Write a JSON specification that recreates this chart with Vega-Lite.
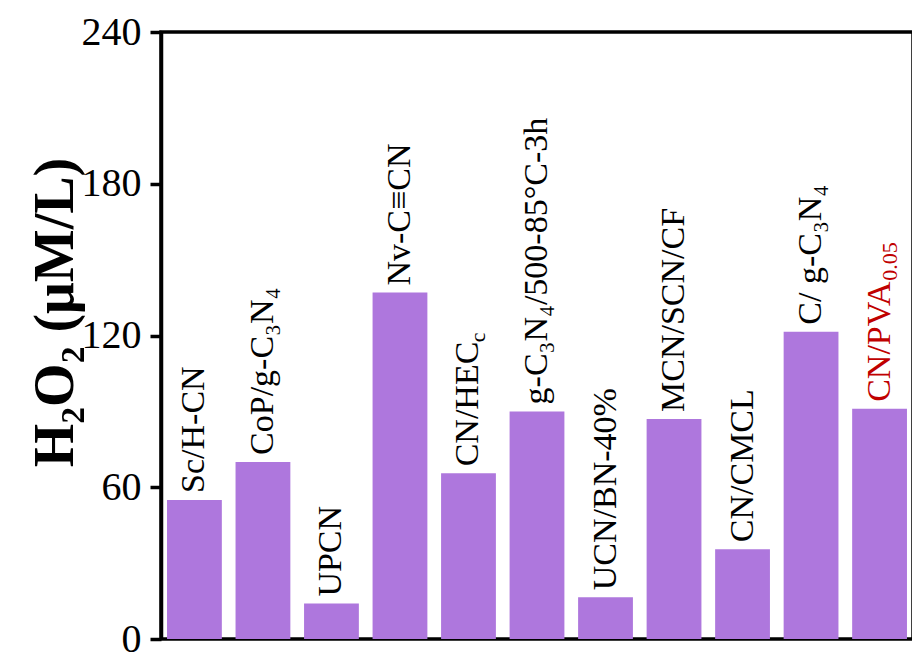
{
  "$schema": "https://vega.github.io/schema/vega-lite/v6.json",
  "width": 752,
  "height": 607,
  "autosize": {"type": "none"},
  "padding": {"left": 161, "top": 32, "right": 0, "bottom": 13},
  "config": {
    "view": {"stroke": "black", "strokeWidth": 3.5},
    "font": "Liberation Serif"
  },
  "data": {
    "values": [
      {"cat": "Sc/H-CN", "label": "Sc/H-CN", "value": 55, "hl": "no"},
      {"cat": "CoP/g-C3N4", "label": "CoP/g-C₃N₄", "value": 70, "hl": "no"},
      {"cat": "UPCN", "label": "UPCN", "value": 14, "hl": "no"},
      {"cat": "Nv-C≡CN", "label": "Nv-C≡CN", "value": 137, "hl": "no"},
      {"cat": "CN/HECc", "label": "CN/HEC", "sub": "c", "value": 65.5, "hl": "no"},
      {"cat": "g-C3N4/500-85°C-3h", "label": "g-C₃N₄/500-85°C-3h", "value": 90, "hl": "no"},
      {"cat": "UCN/BN-40%", "label": "UCN/BN-40%", "value": 16.5, "hl": "no"},
      {"cat": "MCN/SCN/CF", "label": "MCN/SCN/CF", "value": 87, "hl": "no"},
      {"cat": "CN/CMCL", "label": "CN/CMCL", "value": 35.5, "hl": "no"},
      {"cat": "C/ g-C3N4", "label": "C/ g-C₃N₄", "value": 121.5, "hl": "no"},
      {"cat": "CN/PVA0.05", "label": "CN/PVA", "sub": "0.05", "value": 91, "hl": "yes"}
    ]
  },
  "encoding": {
    "x": {
      "field": "cat",
      "type": "nominal",
      "sort": null,
      "scale": {"paddingInner": 0.2, "paddingOuter": 0.088},
      "axis": null
    },
    "y": {
      "field": "value",
      "type": "quantitative",
      "scale": {"domain": [0, 240], "nice": false},
      "axis": {
        "values": [0, 60, 120, 180, 240],
        "grid": false,
        "title": "H₂O₂ (μM/L)",
        "titleFont": "Liberation Serif",
        "titleFontSize": 56,
        "titleFontWeight": "bold",
        "titleColor": "black",
        "titleAngle": -90,
        "titleX": -89,
        "titleY": 280,
        "titleAlign": "center",
        "titleBaseline": "alphabetic",
        "labelFont": "Liberation Serif",
        "labelFontSize": 40,
        "labelColor": "black",
        "labelPadding": 9,
        "tickSize": 11,
        "tickWidth": 3.5,
        "tickColor": "black",
        "domainColor": "black",
        "domainWidth": 3.5
      }
    }
  },
  "layer": [
    {"mark": {"type": "bar", "color": "#AE77DD"}},
    {
      "mark": {"type": "text", "angle": -90, "align": "left", "baseline": "middle", "dx": 7, "fontSize": 34, "font": "Liberation Serif"},
      "encoding": {
        "text": {"field": "label"},
        "color": {"field": "hl", "type": "nominal", "scale": {"domain": ["no", "yes"], "range": ["black", "#C00000"]}, "legend": null}
      }
    },
    {
      "transform": [{"filter": "datum.sub == 'c'"}],
      "mark": {"type": "text", "angle": -90, "align": "left", "baseline": "middle", "dx": 131, "dy": 10, "fontSize": 22, "font": "Liberation Serif", "color": "black"},
      "encoding": {"text": {"field": "sub"}}
    },
    {
      "transform": [{"filter": "datum.sub == '0.05'"}],
      "mark": {"type": "text", "angle": -90, "align": "left", "baseline": "middle", "dx": 128, "dy": 10, "fontSize": 22, "font": "Liberation Serif", "color": "#C00000"},
      "encoding": {"text": {"field": "sub"}}
    }
  ]
}
